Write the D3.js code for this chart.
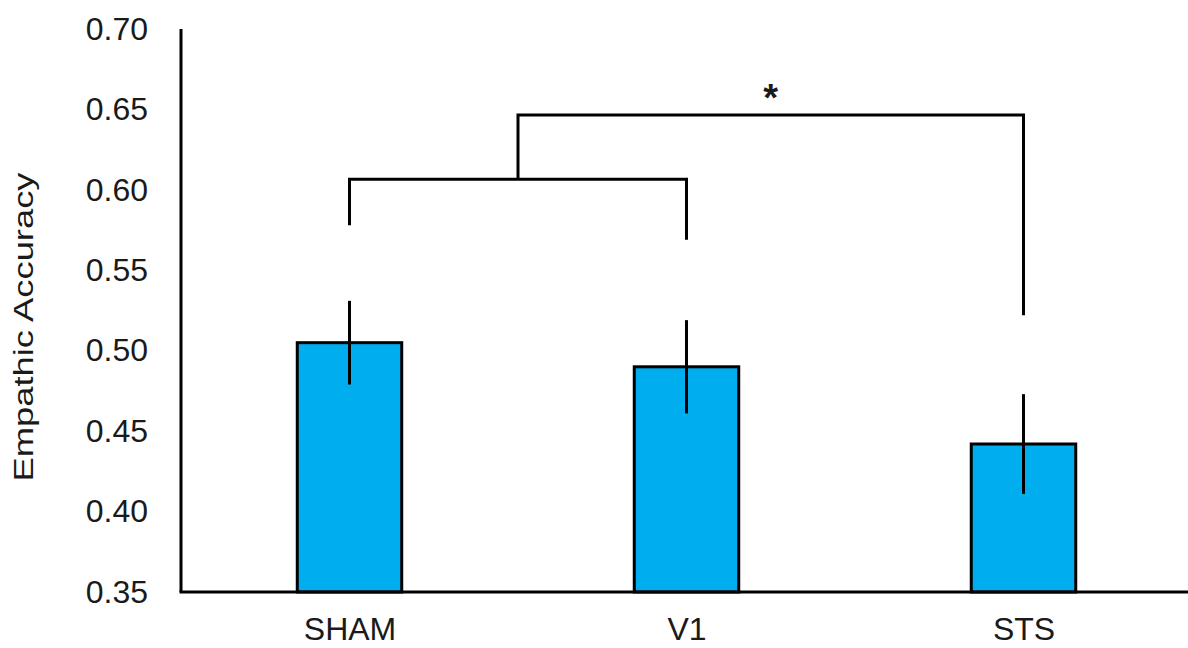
<!DOCTYPE html>
<html>
<head>
<meta charset="utf-8">
<script src="https://cdn.jsdelivr.net/npm/d3@7"></script>
<style>
  html, body { margin: 0; padding: 0; background: #fff; }
  svg { display: block; }
  text { font-family: "Liberation Sans", Arial, sans-serif; fill: #1a1a1a; }
</style>
</head>
<body>
<svg id="chart" width="1188" height="648"></svg>
<script>
// Empathic accuracy by stimulation condition (mean ± SE)
const conditions = ["SHAM", "V1", "STS"];
const means = [0.505, 0.490, 0.442];
const errors = [0.026, 0.029, 0.031];
const yTicks = [0.35, 0.40, 0.45, 0.50, 0.55, 0.60, 0.65, 0.70];

// Significance brackets: inner (SHAM vs V1) joined, then compared with STS
const innerBracket = { left: "SHAM", right: "V1", level: 0.6066, leftEnd: 0.578, rightEnd: 0.569 };
const outerBracket = { right: "STS", level: 0.6465, rightEnd: 0.522 };
const sigLabel = "*";

const svg = d3.select("#chart");
const x0 = 181, x1 = 1192, yTop = 29, yBottom = 592;

const x = d3.scalePoint().domain(conditions).range([x0, x1]).padding(0.5);
const step = x.step();
const barW = step * 0.31;
const y = d3.scaleLinear().domain([0.35, 0.70]).range([yBottom, yTop]);

const ink = "#000";
const sw = 3;

// Bars
svg.append("g").selectAll("rect")
  .data(conditions)
  .join("rect")
  .attr("x", d => x(d) - barW / 2)
  .attr("y", (d, i) => y(means[i]))
  .attr("width", barW)
  .attr("height", (d, i) => y(0.35) - y(means[i]))
  .attr("fill", "#00AEEF")
  .attr("stroke", ink)
  .attr("stroke-width", sw);

// Error bars
svg.append("g").selectAll("line")
  .data(conditions)
  .join("line")
  .attr("x1", d => x(d)).attr("x2", d => x(d))
  .attr("y1", (d, i) => y(means[i] + errors[i]))
  .attr("y2", (d, i) => y(means[i] - errors[i]))
  .attr("stroke", ink)
  .attr("stroke-width", sw);

// Axes
const yAxis = d3.axisLeft(y).tickValues(yTicks).tickFormat(d3.format(".2f")).tickSize(0).tickPadding(33);
const gy = svg.append("g").attr("transform", `translate(${x0},0)`).call(yAxis);
gy.select(".domain").attr("stroke", ink).attr("stroke-width", sw).attr("d", `M0,${yTop}V${yBottom}`);
gy.selectAll("text").attr("font-size", 32).attr("fill", "#1a1a1a")
  .attr("font-family", '"Liberation Sans", Arial, sans-serif');

const xAxis = d3.axisBottom(x).tickSize(0).tickPadding(25);
const gx = svg.append("g").attr("transform", `translate(0,${yBottom})`).call(xAxis);
gx.select(".domain").attr("stroke", ink).attr("stroke-width", sw).attr("d", `M${x0 - 1.5},0H1188`);
gx.selectAll("text").attr("font-size", 32).attr("fill", "#1a1a1a")
  .attr("font-family", '"Liberation Sans", Arial, sans-serif');

// Y axis title
svg.append("text")
  .attr("transform", `translate(33,327) rotate(-90)`)
  .attr("text-anchor", "middle")
  .attr("font-size", 27)
  .attr("textLength", 309)
  .attr("lengthAdjust", "spacingAndGlyphs")
  .text("Empathic Accuracy");

// Brackets
const br = svg.append("g").attr("fill", "none").attr("stroke", ink).attr("stroke-width", sw);
const bl = x(innerBracket.left), brx = x(innerBracket.right);
br.append("path").attr("d",
  `M${bl},${y(innerBracket.leftEnd)}V${y(innerBracket.level)}H${brx}V${y(innerBracket.rightEnd)}`);
const mid = (bl + brx) / 2;
const ox = x(outerBracket.right);
br.append("path").attr("d",
  `M${mid},${y(innerBracket.level)}V${y(outerBracket.level)}H${ox}V${y(outerBracket.rightEnd)}`);

svg.append("text")
  .attr("x", (mid + ox) / 2)
  .attr("y", y(outerBracket.level) - 4)
  .attr("text-anchor", "middle")
  .attr("font-size", 38)
  .attr("font-weight", "bold")
  .text(sigLabel);
</script>
</body>
</html>
